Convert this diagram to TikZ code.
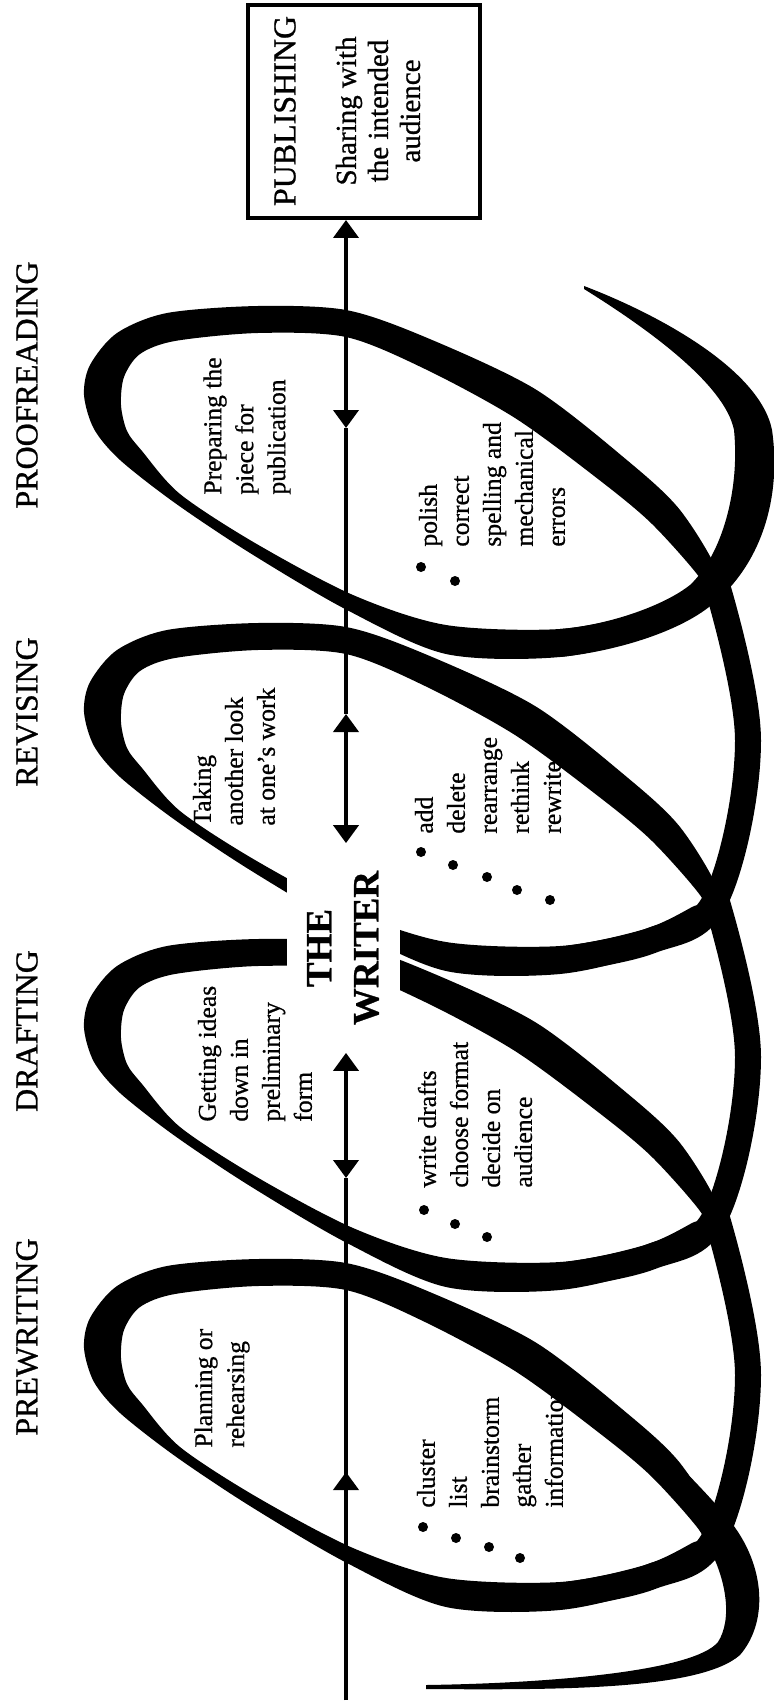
\documentclass[tikz,border=0pt]{standalone}
\usepackage{fontspec}
\setmainfont{Liberation Serif}[FakeBold=0.8]
\usetikzlibrary{
	arrows.meta         %arrow tips
}
\tikzset{
	every picture/.style={
		>={Triangle[width=12.5pt,length=9pt]}
}}
\tikzset{stage/.style={rotate=90,inner sep=0pt,font=\fontsize{16}{19}\selectfont}}
\tikzset{body/.style={rotate=90,anchor=west,align=left,inner sep=0pt,font=\fontsize{12.8}{16}\selectfont}}
\tikzset{dot/.style={circle,fill,inner sep=0pt,minimum size=5pt}}
\tikzset{axis/.style={line width=2pt}}
\tikzset{band/.style={line width=13pt}}
\begin{document}
\begin{tikzpicture}[x=0.5pt,y=-0.5pt]
	\useasboundingbox (0,0) rectangle (773,1706);
	\fill[white] (0,0) rectangle (773,1706);
	% the coil
	\foreach \s in {0,-320,-636,-953}
	\fill[even odd rule,shift={(0,\s)}]
	plot[smooth cycle] coordinates {(718,1527) (680,1463) (628,1414) (535,1342) (425,1290) (346,1263) (258,1259) (167,1266) (117,1286) (90,1318) (84,1348) (94,1382) (120,1413) (175,1456) (250,1506) (347,1563) (446,1607) (560,1610) (650,1588) (702,1552)}
	plot[smooth cycle] coordinates {(702,1534) (652,1477) (598,1432) (515,1371) (425,1322) (346,1290) (258,1286) (175,1294) (140,1307) (124,1330) (121,1358) (127,1384) (142,1404) (180,1447) (255,1496) (353,1548) (446,1578) (560,1582) (645,1565) (692,1543)};
	\foreach \ya/\yb in {1535/1215,1215/899,899/582}
	\draw[band] plot[smooth,tension=0.6] coordinates {(560,\ya+61) (650,\ya+42) (716,\ya) (748,{(\ya+\yb)/2}) (716,\yb)};
	\fill (426,1689) .. controls (560,1690) and (700,1690) .. (740,1655) .. controls (770,1620) and (765,1560) .. (725,1515) .. controls (710,1497) and (695,1482) .. (680,1466) -- (657,1476) .. controls (675,1495) and (692,1515) .. (705,1540) .. controls (728,1580) and (732,1620) .. (718,1642) .. controls (695,1670) and (560,1683) .. (426,1685) -- cycle;
	\fill (584,286) .. controls (660,315) and (760,370) .. (772,430) .. controls (782,500) and (760,570) .. (705,610) .. controls (670,635) and (610,652) .. (560,657) -- (560,629) .. controls (610,625) and (665,605) .. (690,585) .. controls (722,555) and (740,490) .. (734,430) .. controls (725,385) and (650,330) .. (584,289) -- cycle;
	
	\node (writer) [rotate=90,fill=white,inner sep=0pt,minimum width=104.5pt,minimum height=56.5pt,align=center,font=\bfseries\fontsize{18.5}{23.5}\selectfont] at (343,948) {THE\\WRITER};
	\node (publishing) [draw,line width=2pt,rotate=90,minimum width=106.5pt,minimum height=116pt] at (364,111.5) {};
	\node (pubtitle) [stage] at (285,111) {PUBLISHING};
	\node (pubtext) [rotate=90,align=center,inner sep=0pt,font=\fontsize{14.5}{16}\selectfont] at (378,111) {Sharing with\\the intended\\audience};
	
	\node (prewriting) [stage] at (27,1337) {PREWRITING};
	\node (drafting) [stage] at (27,1031) {DRAFTING};
	\node (revising) [stage] at (27,712) {REVISING};
	\node (proofreading) [stage] at (27,385) {PROOFREADING};
	
	\node (planning) [body] at (222,1448) {Planning or\\rehearsing};
	\node (prelist) [body] at (490,1508) {cluster\\list\\brainstorm\\gather\\information};
	\node (getting) [body] at (255,1122) {Getting ideas\\down in\\preliminary\\form};
	\node (draftlist) [body] at (475,1188) {write drafts\\choose format\\decide on\\audience};
	\node (taking) [body] at (234,826) {Taking\\another look\\at one's work};
	\node (revlist) [body] at (488,834) {add\\delete\\rearrange\\rethink\\rewrite};
	\node (preparing) [body] at (247,495) {Preparing the\\piece for\\publication};
	\node (prooflist) [body] at (492,547) {polish\\correct\\spelling and\\mechanical\\errors};
	
	\node (pre1) [dot] at (423,1527) {};
	\node (pre2) [dot] at (456,1538) {};
	\node (pre3) [dot] at (489,1547) {};
	\node (pre4) [dot] at (520,1558) {};
	\node (dra1) [dot] at (424,1210) {};
	\node (dra2) [dot] at (455,1224) {};
	\node (dra3) [dot] at (487,1237) {};
	\node (rev1) [dot] at (421,852) {};
	\node (rev2) [dot] at (453,865) {};
	\node (rev3) [dot] at (487,877) {};
	\node (rev4) [dot] at (517,890) {};
	\node (rev5) [dot] at (550,900) {};
	\node (pro1) [dot] at (421,567) {};
	\node (pro2) [dot] at (455,581) {};
	
	\coordinate (axisend) at (346,1700);
	\coordinate (midtip) at (346,1472);
	\coordinate (draftdn) at (346,1178);
	\coordinate (revup) at (346,714);
	\coordinate (proofdn) at (346,428);
	\draw[axis] (axisend) -- (draftdn);
	\draw[axis,->] (axisend) -- (midtip);
	\draw[axis,<->] (writer.west -| axisend) -- (draftdn);
	\draw[axis,<->] (revup) -- (writer.east -| revup);
	\draw[axis] (proofdn) -- (revup);
	\draw[axis,<->] (publishing.west -| proofdn) -- (proofdn);
\end{tikzpicture}
\end{document}
